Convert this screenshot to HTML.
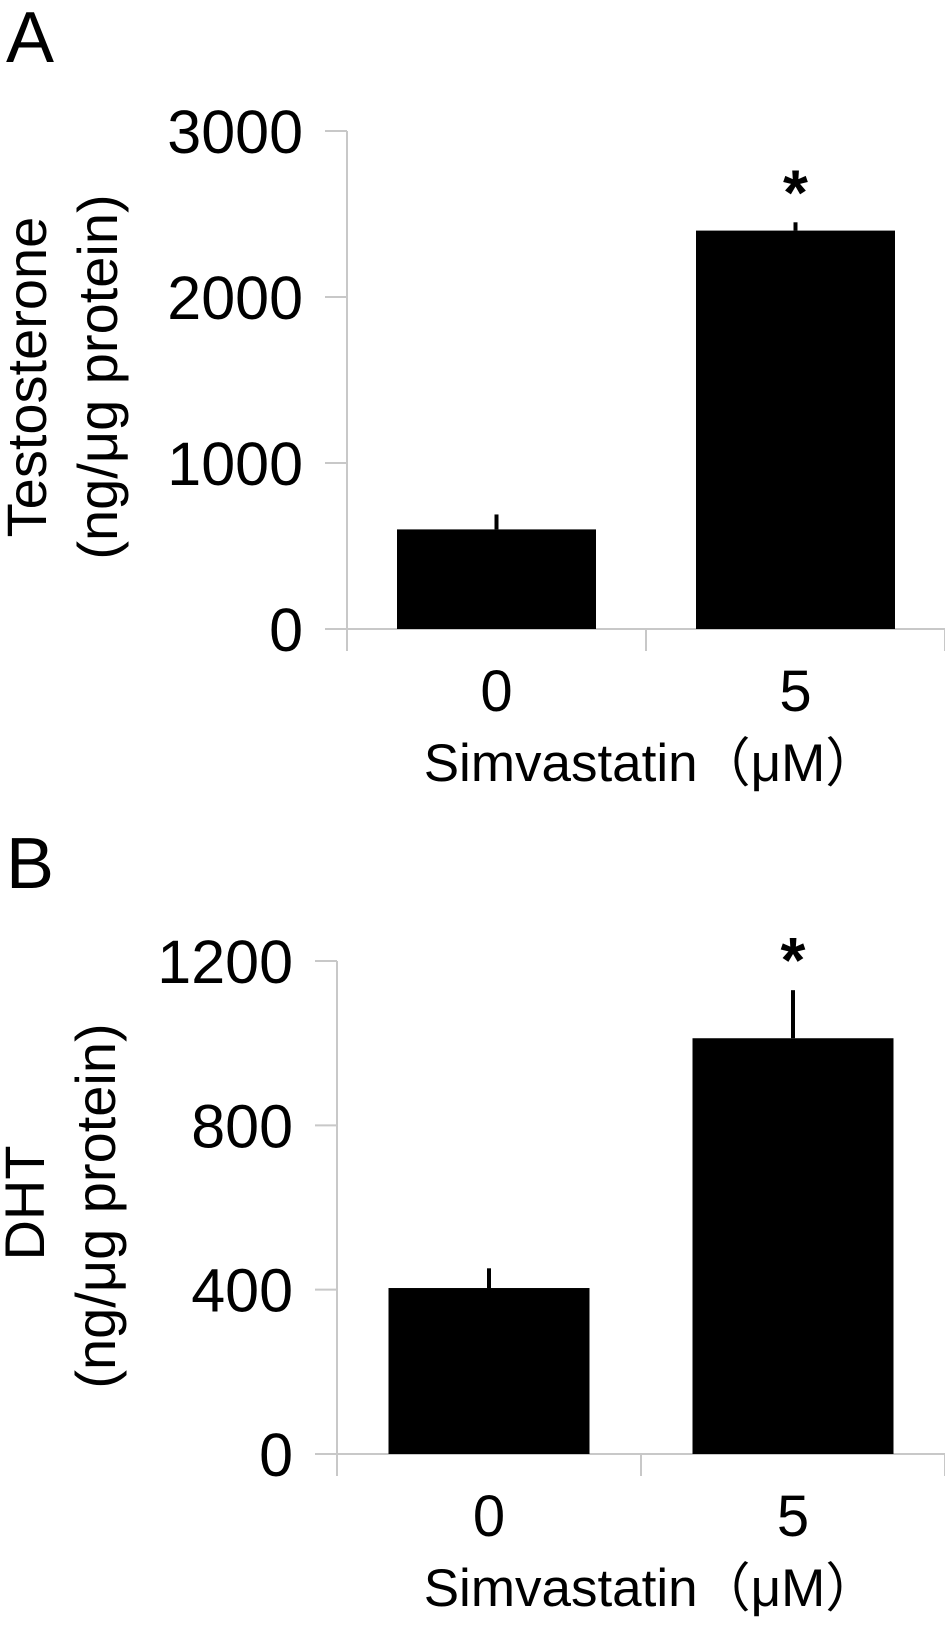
<!DOCTYPE html>
<html><head><meta charset="utf-8"><style>
html,body{margin:0;padding:0;background:#fff;}
svg{display:block;font-family:"Liberation Sans","Noto Sans CJK JP",sans-serif;}
</style></head><body>
<svg id="fig" width="945" height="1633" viewBox="0 0 945 1633"></svg>
<script>
const categories = ["0", "5"];
const testoValues = [600, 2400];
const testoErrors = [90, 50];
const testoTicks = [0, 1000, 2000, 3000];
const dhtValues = [404, 1012];
const dhtErrors = [48, 117];
const dhtTicks = [0, 400, 800, 1200];
const sigFlags = [false, true];

const NS = "http://www.w3.org/2000/svg";
const svg = document.getElementById("fig");
function mk(tag, attrs, parent) {
  const e = document.createElementNS(NS, tag);
  for (const k in attrs) e.setAttribute(k, attrs[k]);
  (parent || svg).appendChild(e);
  return e;
}

function panel(cfg, values, errors, ticks) {
  const g = mk("g", {});
  
  
  const yMax = ticks[ticks.length - 1];
  const y = v => cfg.y0 - (v / yMax) * (cfg.y0 - cfg.yTop);
  const slotW = (cfg.xRight - cfg.axisX) / categories.length;
  const xc = i => cfg.axisX + slotW * (i + 0.5);

  const lbl = mk("text", {x: 6, y: cfg.letterY, "font-size": 72, fill: "#000"}, g);
  lbl.textContent = cfg.letter;
  
  

  const ya = mk("line", {x1: cfg.axisX, y1: cfg.yTop, x2: cfg.axisX, y2: cfg.y0 + 22, stroke: "#c8c8c8", "stroke-width": 2}, g);
  
  
  const xa = mk("line", {x1: cfg.axisX - 22, y1: cfg.y0, x2: cfg.xRight, y2: cfg.y0, stroke: "#c8c8c8", "stroke-width": 2}, g);
  
  
  for (let i = 1; i <= categories.length; i++) {
    const xt = cfg.axisX + slotW * i;
    const t = mk("line", {x1: xt, y1: cfg.y0, x2: xt, y2: cfg.y0 + 22, stroke: "#c8c8c8", "stroke-width": 2}, g);
    
    
  }
  ticks.forEach(v => {
    const t = mk("line", {x1: cfg.axisX - 22, y1: y(v), x2: cfg.axisX, y2: y(v), stroke: "#c8c8c8", "stroke-width": 2}, g);
    
    
    const tl = mk("text", {x: cfg.axisX - 44, y: y(v) + 22, "font-size": 61, "text-anchor": "end", fill: "#000"}, g);
    tl.textContent = v;
    
    
  });

  values.forEach((v, i) => {
    const bw = cfg.barW;
    const b = mk("rect", {x: xc(i) - bw / 2, y: y(v), width: bw, height: cfg.y0 - y(v), fill: "#000"}, g);
    
    
    const e = mk("line", {x1: xc(i), y1: y(v), x2: xc(i), y2: y(v + errors[i]), stroke: "#000", "stroke-width": 4}, g);
    
    
    if (sigFlags[i]) {
      const s = mk("text", {x: xc(i), y: y(v + errors[i]) + cfg.starOff, "font-size": 64, "font-weight": "bold", "text-anchor": "middle", fill: "#000"}, g);
      s.textContent = "*";
      
      
    }
    const xl = mk("text", {x: xc(i), y: cfg.y0 + 82, "font-size": 58, "text-anchor": "middle", fill: "#000"}, g);
    xl.textContent = categories[i];
    
    
  });

  const xt = mk("text", {x: 651, y: cfg.y0 + 152, "font-size": 53, "text-anchor": "middle", fill: "#000"}, g);
  xt.textContent = "Simvastatin（μM）";
  
  

  const t1 = mk("text", {x: 0, y: 0, "font-size": 56, "text-anchor": "middle", fill: "#000", transform: `translate(${cfg.t1x},${cfg.t1y}) rotate(-90)`}, g);
  t1.textContent = cfg.title;
  
  
  const t2 = mk("text", {x: 0, y: 0, "font-size": 56, "text-anchor": "middle", fill: "#000", transform: `translate(${cfg.t2x},${cfg.t2y}) rotate(-90)`}, g);
  t2.textContent = "(ng/μg protein)";
  
  
}

panel({name: "panel-a-testosterone", letter: "A", letterY: 62, axisX: 347, xRight: 945, y0: 629, yTop: 131,
  barW: 199, starOff: -8, title: "Testosterone", t1x: 46, t1y: 377, t2x: 117, t2y: 377},
  testoValues, testoErrors, testoTicks);
panel({name: "panel-b-dht", letter: "B", letterY: 888, axisX: 337, xRight: 945, y0: 1454, yTop: 961,
  barW: 201, starOff: -8, title: "DHT", t1x: 44, t1y: 1203, t2x: 115, t2y: 1206},
  dhtValues, dhtErrors, dhtTicks);
</script>
</body></html>
